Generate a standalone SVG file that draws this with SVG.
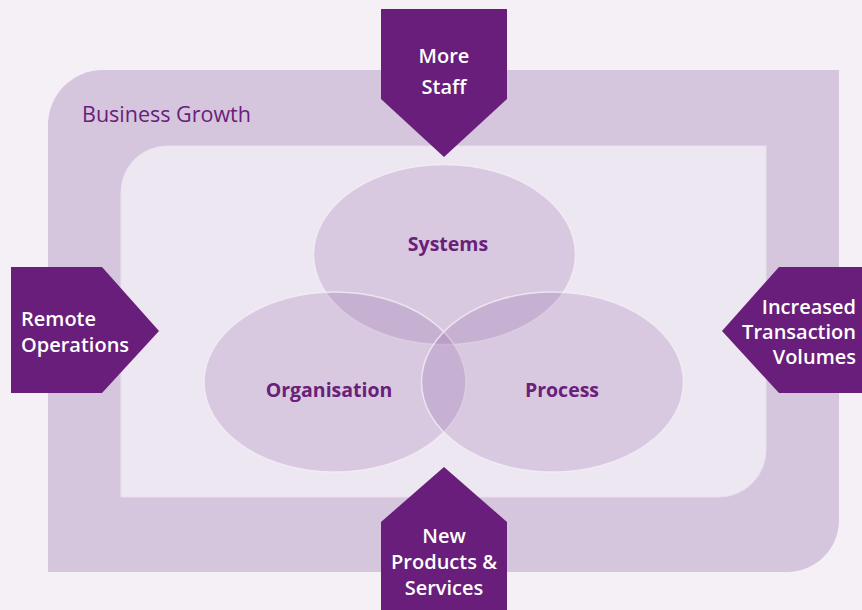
<svg xmlns="http://www.w3.org/2000/svg" width="862" height="610" viewBox="0 0 862 610">
<style>
.arrow{fill:#681E7A}
.at{font-family:"Open Sans","Liberation Sans",sans-serif;font-weight:600;font-size:20px;fill:#FFFFFF}
.ct{font-family:"Open Sans","Liberation Sans",sans-serif;font-weight:700;font-size:19.5px;fill:#6A2079;text-anchor:middle}
.ell{fill:#89559D;fill-opacity:0.2;stroke:#F4EEF6;stroke-opacity:0.8;stroke-width:1.5}
</style>
<rect x="0" y="0" width="862" height="610" fill="#F5F0F6"/>
<g id="business-growth">
<path d="M48,125 A55,55 0 0 1 103,70 L839,70 L839,520 A52,52 0 0 1 787,572 L48,572 Z" fill="#D5C5DD"/>
<path d="M121,192 A46,46 0 0 1 167,146 L766,146 L766,450 A47,47 0 0 1 719,497 L121,497 Z" fill="#EDE7F2" stroke="#E9E0EE" stroke-width="1"/>
<text x="82" y="122" font-family="'Open Sans','Liberation Sans',sans-serif" font-size="21.5" fill="#681E7A">Business Growth</text>
</g>
<g id="systems">
<ellipse class="ell" cx="444.5" cy="254.5" rx="131" ry="90"/>
</g>
<g id="organisation">
<ellipse class="ell" cx="335" cy="382" rx="131" ry="90"/>
</g>
<g id="process">
<ellipse class="ell" cx="552.5" cy="382" rx="131" ry="90"/>
</g>
<g id="labels">
<text class="ct" x="448" y="251">Systems</text>
<text class="ct" x="329" y="397">Organisation</text>
<text class="ct" x="562" y="397">Process</text>
</g>
<g id="connectors">
<g id="more-staff">
<polygon class="arrow" points="381,9 507,9 507,99 444,157 381,99"/>
<text class="at" x="444" y="63" text-anchor="middle">More</text>
<text class="at" x="444" y="94" text-anchor="middle">Staff</text>
</g>
<g id="remote-operations">
<polygon class="arrow" points="11,267 102,267 159,331 102,393 11,393"/>
<text class="at" x="21" y="326">Remote</text>
<text class="at" x="21" y="352">Operations</text>
</g>
<g id="increased-transaction-volumes">
<polygon class="arrow" points="862,267 779,267 722,331 779,393 862,393"/>
<text class="at" x="856" y="314" text-anchor="end">Increased</text>
<text class="at" x="856" y="339" text-anchor="end">Transaction</text>
<text class="at" x="856" y="364" text-anchor="end">Volumes</text>
</g>
<g id="new-products-services">
<polygon class="arrow" points="444,467 507,522 507,610 381,610 381,522"/>
<text class="at" x="444" y="543" text-anchor="middle">New</text>
<text class="at" x="444" y="569" text-anchor="middle">Products &amp;</text>
<text class="at" x="444" y="595" text-anchor="middle">Services</text>
</g>
</g>
</svg>
